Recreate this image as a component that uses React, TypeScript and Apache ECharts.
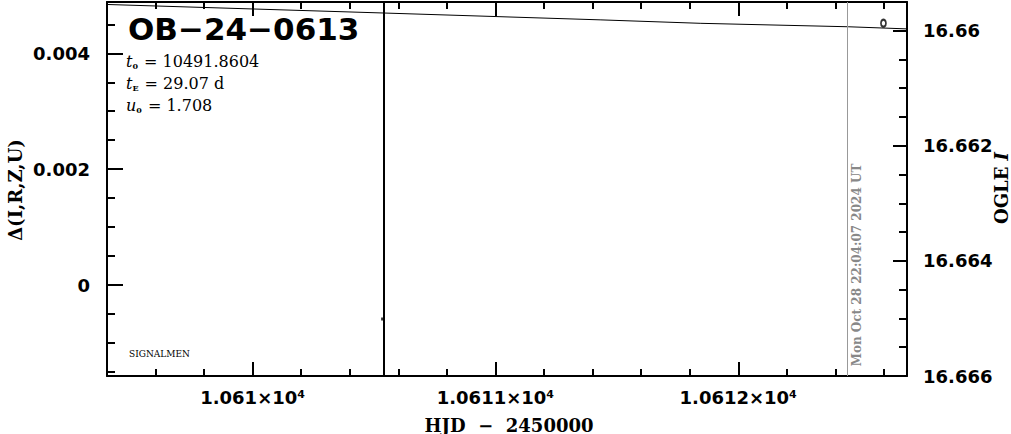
import React, { useEffect, useRef } from "react";
import * as echarts from "echarts";

// ---- data ----
const xRange = [10609.4, 10612.695];
const leftRange = [-0.001571, 0.004886];
const rightRange = [16.659505, 16.666];

const modelT = [10609.4, 10610.537, 10611.431, 10611.843, 10612.453, 10612.695];
const modelMag = [16.659548, 16.659696, 16.659815, 16.659875, 16.659935, 16.659972];

const ogleT = [10612.598];
const ogleMag = [16.659872];

const deltaT = [10610.533];
const deltaVal = [-0.000587];

const markerT = [10610.539]; // black vertical line
const nowT = [10612.453]; // gray "now" line
const nowLabel = "Mon Oct 28 22:04:07 2024 UT";

const eventName = "OB−24−0613";
const params = [
  { sym: "t", sub: "0", val: "10491.8604" },
  { sym: "t", sub: "E", val: "29.07 d" },
  { sym: "u", sub: "0", val: "1.708" },
];

const xTitle = "HJD  −  2450000";
const yLeftTitle = "Δ(I,R,Z,U)";
const yRightTitle = "OGLE ";

const GRID = { left: 107, right: 104, top: 2, bottom: 58 };

function fmtX(v: number) {
  const m = parseFloat((v / 1e4).toPrecision(6));
  return `${m}×10⁴`;
}

export default function App() {
  const ref = useRef<HTMLDivElement>(null);
  useEffect(() => {
    if (!ref.current) return;
    const chart = echarts.init(ref.current, undefined, { renderer: "svg" });
    const labelFont = {
      fontFamily: "DejaVu Sans",
      fontWeight: "bold" as const,
      fontSize: 18,
      color: "#000",
    };
    const axisLine = { show: true, onZero: false, lineStyle: { color: "#000", width: 2 } };
    const tick = (len: number) => ({
      show: true,
      inside: true,
      length: len,
      lineStyle: { color: "#000", width: 2 },
    });
    const minor = (n: number, len: number) => ({
      show: true,
      splitNumber: n,
      length: len,
      lineStyle: { color: "#000", width: 2 },
    });

    const option: any = {
      animation: false,
      backgroundColor: "#fff",
      grid: { ...GRID, containLabel: false, outerBoundsMode: "none" },
      xAxis: [
        {
          type: "value",
          position: "bottom",
          min: xRange[0],
          max: xRange[1],
          splitNumber: 3,
          axisLine,
          axisTick: tick(14),
          minorTick: minor(5, 7),
          splitLine: { show: false },
          axisLabel: {
            ...labelFont,
            margin: 12,
            showMinLabel: false,
            showMaxLabel: false,
            formatter: (v: number) => (Math.abs(v - Math.round(v)) < 1e-6 ? fmtX(v) : ""),
          },
        },
        {
          type: "value",
          position: "top",
          min: xRange[0],
          max: xRange[1],
          splitNumber: 3,
          axisLine,
          axisTick: tick(14),
          minorTick: minor(5, 7),
          splitLine: { show: false },
          axisLabel: { show: false },
        },
      ],
      yAxis: [
        {
          type: "value",
          position: "left",
          min: leftRange[0],
          max: leftRange[1],
          splitNumber: 3,
          axisLine,
          axisTick: tick(16),
          minorTick: minor(4, 8),
          splitLine: { show: false },
          axisLabel: {
            ...labelFont,
            margin: 17,
            showMinLabel: false,
            showMaxLabel: false,
            formatter: (v: number) => String(parseFloat(v.toPrecision(6))),
          },
        },
        {
          type: "value",
          position: "right",
          inverse: true,
          min: rightRange[0],
          max: rightRange[1],
          splitNumber: 3,
          axisLine,
          axisTick: tick(14),
          minorTick: minor(4, 8),
          splitLine: { show: false },
          axisLabel: {
            ...labelFont,
            margin: 16,
            showMinLabel: false,
            formatter: (v: number) => String(parseFloat(v.toPrecision(8))),
          },
        },
      ],
      series: [
        {
          type: "line",
          xAxisIndex: 0,
          yAxisIndex: 1,
          data: modelT.map((t, i) => [t, modelMag[i]]),
          symbol: "none",
          lineStyle: { color: "#000", width: 1 },
          silent: true,
          markLine: {
            silent: true,
            symbol: "none",
            label: { show: false },
            data: [
              ...markerT.map((t) => ({ xAxis: t, lineStyle: { color: "#000", width: 2, type: "solid" } })),
              ...nowT.map((t) => ({ xAxis: t, lineStyle: { color: "#999", width: 1, type: "solid" } })),
            ],
          },
        },
        {
          type: "scatter",
          xAxisIndex: 0,
          yAxisIndex: 1,
          data: ogleT.map((t, i) => [t, ogleMag[i]]),
          symbol: "emptyCircle",
          symbolSize: [5, 7],
          itemStyle: { color: "#000", borderColor: "#000", borderWidth: 2.5 },
          silent: true,
        },
        {
          type: "scatter",
          xAxisIndex: 0,
          yAxisIndex: 0,
          data: deltaT.map((t, i) => [t, deltaVal[i]]),
          symbol: "rect",
          symbolSize: [2, 3],
          itemStyle: { color: "#000" },
          silent: true,
        },
      ],
      graphic: [
        {
          type: "text",
          left: 128,
          top: 13,
          style: {
            text: eventName,
            font: "bold 31px 'DejaVu Sans'",
            fill: "#000",
          },
        },
        ...params.map((p, i) => ({
          type: "text",
          left: 126,
          top: 53 + i * 22,
          style: {
            text: `{i|${p.sym}}{s|${p.sub}}{n| = ${p.val}}`,
            rich: {
              i: { fontFamily: "DejaVu Serif", fontStyle: "italic", fontSize: 16, fill: "#000" },
              s: { fontFamily: "DejaVu Serif", fontSize: 8, fontWeight: "bold", fill: "#000", verticalAlign: "bottom", padding: [9, 1, 0, 0] },
              n: { fontFamily: "DejaVu Serif", fontSize: 16, fill: "#000" },
            },
          },
        })),
        {
          type: "text",
          left: 129,
          top: 349,
          style: { text: "SIGNALMEN", font: "9px 'DejaVu Serif'", fill: "#000" },
        },
        {
          type: "text",
          x: 857,
          y: 265,
          rotation: Math.PI / 2,
          style: {
            text: nowLabel,
            font: "bold 12px 'DejaVu Serif'",
            fill: "#888",
            align: "center",
            verticalAlign: "middle",
          },
        },
        {
          type: "text",
          x: 509,
          y: 425,
          style: {
            text: xTitle,
            font: "bold 18px 'DejaVu Serif'",
            fill: "#000",
            align: "center",
            verticalAlign: "middle",
          },
        },
        {
          type: "text",
          x: 15,
          y: 190,
          rotation: Math.PI / 2,
          style: {
            text: yLeftTitle,
            font: "bold 18px 'DejaVu Serif'",
            fill: "#000",
            align: "center",
            verticalAlign: "middle",
          },
        },
        {
          type: "text",
          x: 1001,
          y: 188,
          rotation: Math.PI / 2,
          style: {
            text: `{a|${yRightTitle}}{b|I}`,
            align: "center",
            verticalAlign: "middle",
            rich: {
              a: { fontFamily: "DejaVu Serif", fontWeight: "bold", fontSize: 18, fill: "#000" },
              b: { fontFamily: "DejaVu Serif", fontWeight: "bold", fontStyle: "italic", fontSize: 18, fill: "#000" },
            },
          },
        },
      ],
    };
    chart.setOption(option);
    return () => chart.dispose();
  }, []);
  return (
    <div
      ref={ref}
      style={{ position: "absolute", left: 0, top: 0, width: 1011, height: 434, background: "#fff" }}
    />
  );
}
